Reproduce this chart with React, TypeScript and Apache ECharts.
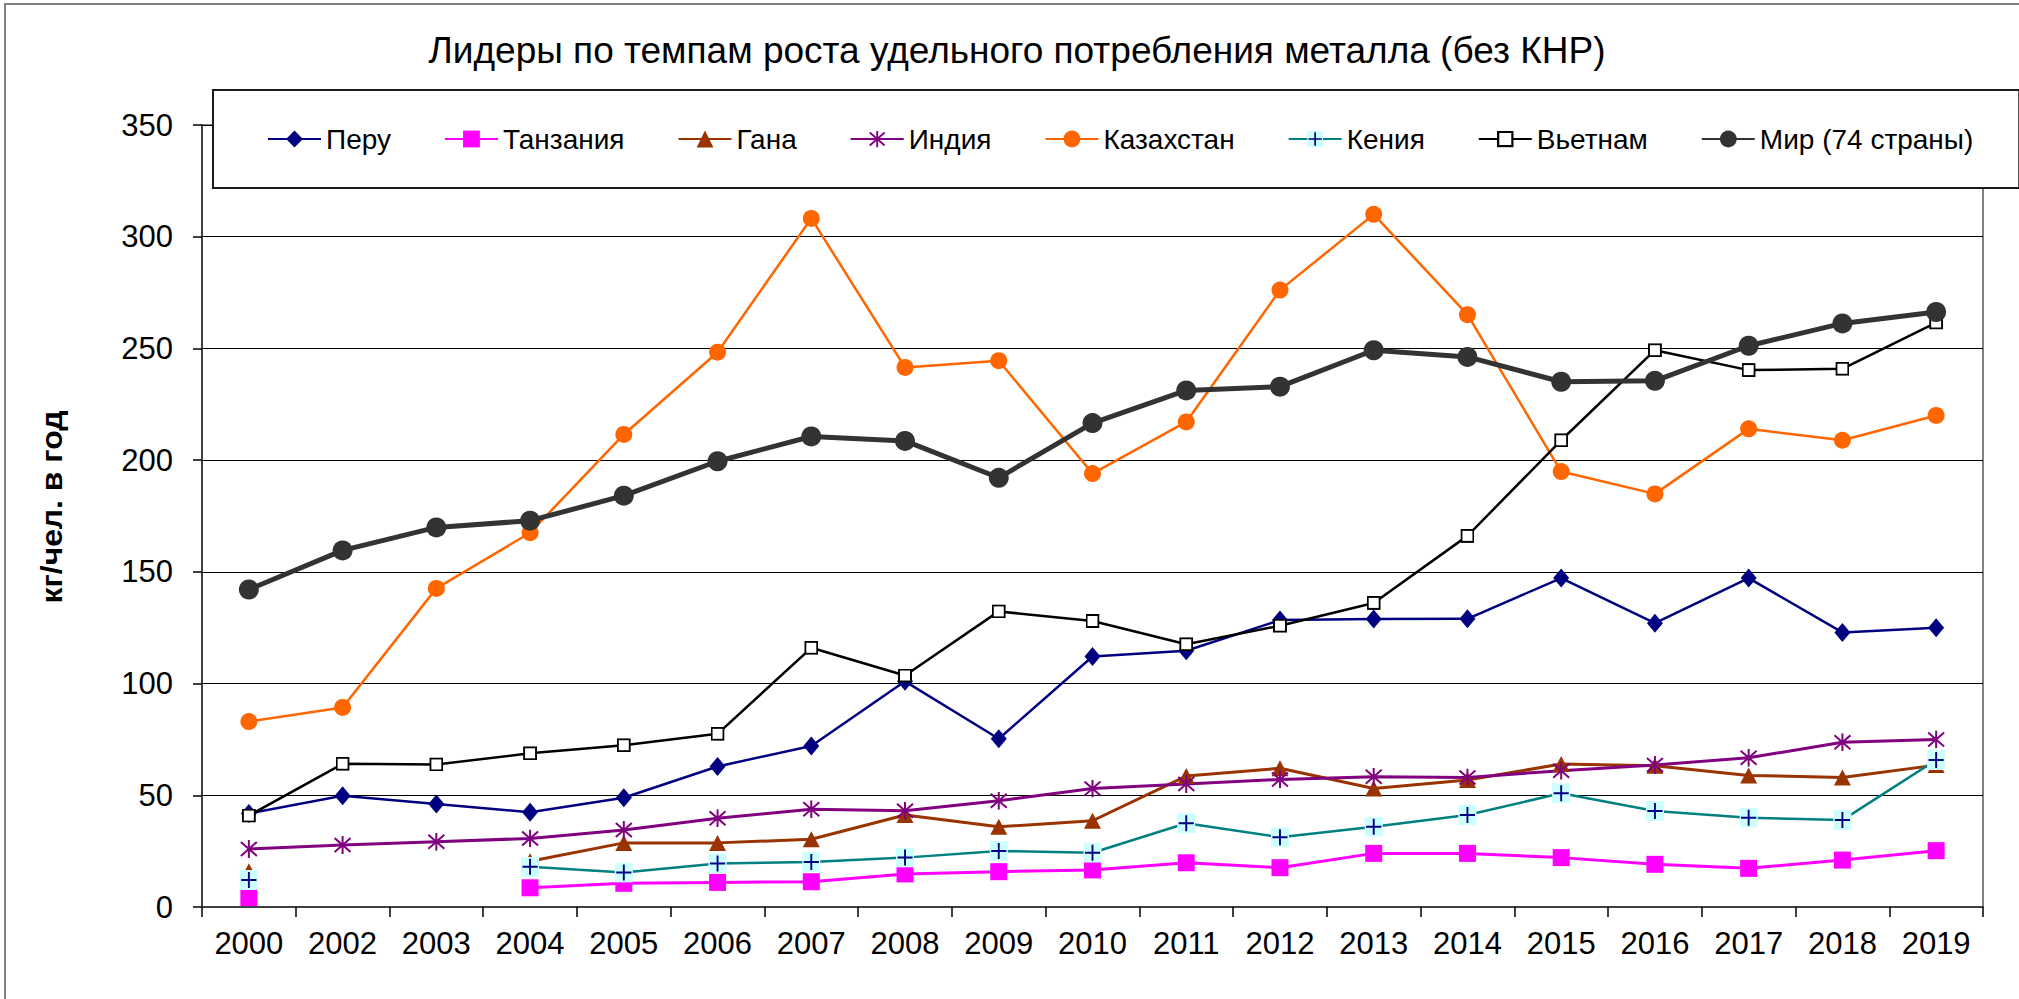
import React, { useEffect, useRef } from 'react';
import * as echarts from 'echarts';

const categories = ['2000', '2002', '2003', '2004', '2005', '2006', '2007', '2008', '2009', '2010', '2011', '2012', '2013', '2014', '2015', '2016', '2017', '2018', '2019'];

const peru = [41.9, 49.8, 46.1, 42.4, 48.9, 62.9, 72.1, 101, 75.3, 112.1, 114.7, 128.4, 128.9, 129, 147.2, 127, 147.2, 122.9, 125];
const tanzania = [4.2, null, null, 8.6, 10.6, 11, 11.3, 14.8, 15.8, 16.6, 19.8, 17.6, 24, 24, 22.1, 19.1, 17.3, 21, 25.2];
const ghana = [16, null, null, 20.5, 28.7, 28.7, 30.3, 41.2, 35.9, 38.6, 58.6, 62.1, 53, 56.8, 64, 63.2, 58.9, 58, 63.5];
const india = [26, 27.7, 29.2, 30.7, 34.5, 39.7, 43.8, 43.1, 47.6, 53, 55, 57.1, 58.3, 58, 61, 63.6, 66.8, 73.7, 75];
const kazakhstan = [83, 89.3, 142.6, 167.5, 211.5, 248.3, 308.2, 241.5, 244.5, 194, 217.1, 276.1, 310, 265.1, 194.9, 184.9, 214, 208.9, 220];
const kenya = [12.1, null, null, 18, 15.4, 19.5, 20.1, 22.1, 25.1, 24.3, 37.5, 31.2, 35.9, 41.2, 50.9, 43, 40, 38.9, 65.8];
const vietnam = [40.9, 64.1, 63.8, 68.8, 72.4, 77.5, 116, 103.6, 132.3, 128, 117.6, 125.9, 136.1, 166.1, 208.9, 249.2, 240.3, 240.9, 261.6];
const world = [142.1, 159.6, 169.9, 172.9, 184.1, 199.5, 210.6, 208.6, 192.1, 216.6, 231.2, 232.9, 249.2, 246.2, 235.1, 235.5, 251.2, 261.2, 266.3];

const seriesNames = ['Перу', 'Танзания', 'Гана', 'Индия', 'Казахстан', 'Кения', 'Вьетнам', 'Мир (74 страны)'];
const yTicks = { min: 0, max: 350, interval: 50 };
const titleText = 'Лидеры по темпам роста удельного потребления металла (без КНР)';
const yAxisTitle = 'кг/чел. в год';

const FONT = '"Liberation Sans", Arial, sans-serif';

const svgUri = (svg: string) => 'image://data:image/svg+xml;charset=utf-8,' + encodeURIComponent(svg);

const asteriskSymbol = svgUri(
  '<svg xmlns="http://www.w3.org/2000/svg" width="18" height="18" viewBox="0 0 18 18">' +
    '<path d="M9 0V18M1 2L17 16M1 16L17 2" stroke="#800080" stroke-width="2" fill="none"/></svg>'
);
const kenyaSymbol = svgUri(
  '<svg xmlns="http://www.w3.org/2000/svg" width="19" height="20" viewBox="0 0 19 20">' +
    '<rect x="0" y="0" width="19" height="20" fill="#CCFFFF"/>' +
    '<path d="M9.5 2V18M1.5 10H17.5" stroke="#000080" stroke-width="2" fill="none"/></svg>'
);
const vietnamSymbol = svgUri(
  '<svg xmlns="http://www.w3.org/2000/svg" width="14" height="14" viewBox="0 0 14 14">' +
    '<rect x="1" y="1" width="12" height="12" fill="#ffffff" stroke="#000000" stroke-width="2"/></svg>'
);

function makeSeries(name: string, data: (number | null)[], color: string, lineColor: string, width: number, symbol: string, symbolSize: number | number[]) {
  return {
    type: 'line',
    name,
    data,
    symbol,
    symbolSize,
    showSymbol: true,
    showAllSymbol: true,
    connectNulls: false,
    lineStyle: { color: lineColor, width },
    itemStyle: { color, borderWidth: 0 },
    emphasis: { disabled: true },
    silent: true,
  };
}

export default function App() {
  const ref = useRef<HTMLDivElement>(null);

  useEffect(() => {
    if (!ref.current) return;
    const chart = echarts.init(ref.current, undefined, { renderer: 'svg' });
    const option: any = {
      animation: false,
      backgroundColor: '#ffffff',
      textStyle: { fontFamily: FONT },
      graphic: [
        {
          type: 'rect',
          shape: { x: 5, y: 4, width: 2100, height: 1100 },
          style: { fill: 'none', stroke: '#808080', lineWidth: 2 },
          silent: true,
        },
        {
          type: 'text',
          x: 1017,
          y: 50,
          style: {
            text: titleText,
            font: '37px ' + FONT,
            fill: '#000',
            align: 'center',
            verticalAlign: 'middle',
            textAlign: 'center',
            textVerticalAlign: 'middle',
          },
          silent: true,
        },
        {
          type: 'text',
          x: 52,
          y: 507,
          rotation: Math.PI / 2,
          scaleX: 1.1,
          style: {
            text: yAxisTitle,
            font: 'bold 29px ' + FONT,
            fill: '#000',
            align: 'center',
            verticalAlign: 'middle',
            textAlign: 'center',
            textVerticalAlign: 'middle',
          },
          silent: true,
        },
      ],
      legend: {
        left: 213,
        top: 90,
        width: 1790,
        orient: 'horizontal',
        itemWidth: 53,
        itemHeight: 21,
        itemGap: 53,
        padding: [35, 46, 35, 54],
        backgroundColor: '#ffffff',
        borderColor: '#1a1a1a',
        borderWidth: 2,
        selectedMode: false,
        textStyle: { fontSize: 28, color: '#000', fontFamily: FONT },
        data: seriesNames,
      },
      grid: {
        left: 202,
        right: 36,
        top: 125,
        bottom: 92,
        show: true,
        borderColor: '#808080',
        borderWidth: 2,
        backgroundColor: 'transparent',
      },
      xAxis: {
        type: 'category',
        data: categories,
        boundaryGap: true,
        axisLine: { show: true, lineStyle: { color: '#404040', width: 2 } },
        axisTick: { show: true, inside: false, length: 10, alignWithLabel: false, lineStyle: { color: '#000', width: 1.5 } },
        axisLabel: { interval: 0, margin: 21, fontSize: 31, color: '#000', fontFamily: FONT },
        splitLine: { show: false },
      },
      yAxis: {
        type: 'value',
        min: yTicks.min,
        max: yTicks.max,
        interval: yTicks.interval,
        axisLine: { show: true, lineStyle: { color: '#404040', width: 2 } },
        axisTick: { show: true, inside: false, length: 9, lineStyle: { color: '#000', width: 1.5 } },
        axisLabel: { margin: 29, fontSize: 31, color: '#000', fontFamily: FONT },
        splitLine: { show: true, lineStyle: { color: '#000', width: 1 } },
      },
      series: [
        makeSeries(seriesNames[0], peru, '#000080', '#000080', 2.5, 'diamond', [16, 19]),
        makeSeries(seriesNames[1], tanzania, '#FF00FF', '#FF00FF', 3, 'rect', 17),
        makeSeries(seriesNames[2], ghana, '#993300', '#993300', 3, 'triangle', [17, 16]),
        makeSeries(seriesNames[3], india, '#800080', '#800080', 3, asteriskSymbol, 18),
        makeSeries(seriesNames[4], kazakhstan, '#FF6600', '#FF6600', 2.5, 'circle', 17),
        makeSeries(seriesNames[5], kenya, '#008080', '#008080', 2.5, kenyaSymbol, [19, 20]),
        makeSeries(seriesNames[6], vietnam, '#000000', '#000000', 2.5, vietnamSymbol, 14),
        makeSeries(seriesNames[7], world, '#333333', '#333333', 5, 'circle', 20),
      ],
    };
    chart.setOption(option);
    return () => {
      chart.dispose();
    };
  }, []);

  return (
    <div
      ref={ref}
      style={{ position: 'absolute', left: 0, top: 0, width: 2019, height: 999, background: '#fff' }}
    />
  );
}
